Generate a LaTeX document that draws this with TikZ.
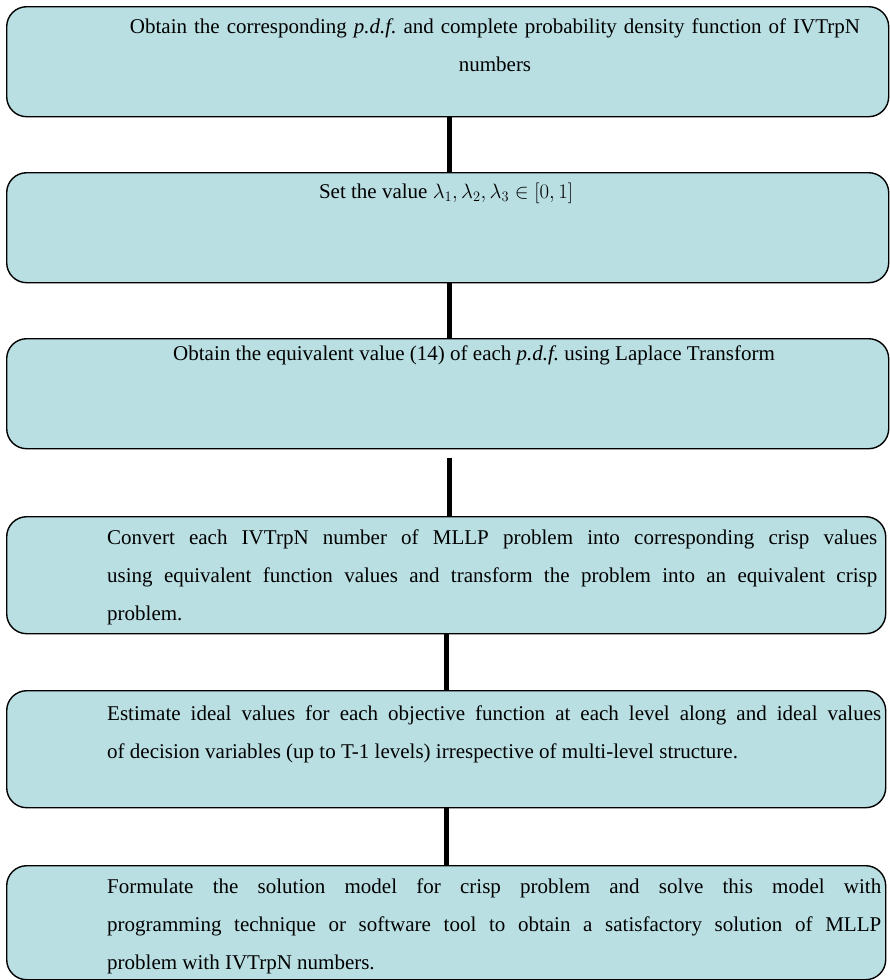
\documentclass[tikz,border=0pt]{standalone}
\usepackage{fontspec}
\setmainfont{Liberation Serif}
\definecolor{boxfill}{RGB}{185,223,227}
\hyphenpenalty=10000
\exhyphenpenalty=10000
\frenchspacing

\begin{document}
\begin{tikzpicture}[x=1pt,y=-1pt,line join=round,
  flowbox/.style={draw,line width=1.4pt,fill=boxfill,rounded corners=20pt,
    anchor=north west,inner sep=0pt},
  flowtext/.style={inner sep=0pt,font=\fontsize{21}{38}\selectfont},
  link/.style={line width=5pt}]
  \useasboundingbox (0,0) rectangle (889,980);
  % the six steps
  \node[flowbox,minimum width=882pt,minimum height=110pt] (obtainpdf) at (6,6) {};
  \node[flowbox,minimum width=882pt,minimum height=110pt] (setvalue) at (6,172) {};
  \node[flowbox,minimum width=882pt,minimum height=110pt] (equivalent) at (6,338) {};
  \node[flowbox,minimum width=879pt,minimum height=117pt] (convert) at (6,516) {};
  \node[flowbox,minimum width=879pt,minimum height=117pt] (estimate) at (6,690) {};
  \node[flowbox,minimum width=879pt,minimum height=114pt] (formulate) at (6,865) {};
  % texts
  \node[flowtext,anchor=base,text width=780pt,align=center] (obtaintext) at (495,33)
    {Obtain the corresponding \textit{p.d.f.} and complete probability density function of IVTrpN\\numbers};
  \node[flowtext,anchor=base] (settext) at (446,198)
    {Set the value $\lambda_1,\lambda_2,\lambda_3\in[0,1]$};
  \node[flowtext,anchor=base west] (equivtext) at (173,360)
    {Obtain the equivalent value (14) of each \textit{p.d.f.} using Laplace Transform};
  \node[flowtext,anchor=base west,text width=770pt,align=justify] (converttext) at (107,544)
    {Convert each IVTrpN number of MLLP problem into corresponding crisp values\linebreak
     using equivalent function values and transform the problem into an equivalent crisp\linebreak
     problem.};
  \node[flowtext,anchor=base west,text width=774pt,align=justify] (estimatetext) at (107,720)
    {Estimate ideal values for each objective function at each level along and ideal values\linebreak
     of decision variables (up to T-1 levels) irrespective of multi-level structure.};
  \node[flowtext,anchor=base west,text width=774pt,align=justify] (formulatetext) at (107,893)
    {Formulate the solution model for crisp problem and solve this model with\linebreak
     programming technique or software tool to obtain a satisfactory solution of MLLP\linebreak
     problem with IVTrpN numbers.};
  % links
  \draw[link] ([xshift=2pt]obtainpdf.south) -- ([xshift=2pt]setvalue.north);
  \draw[link] ([xshift=2pt]setvalue.south) -- ([xshift=2pt]equivalent.north);
  \draw[link] ([xshift=2pt,yshift=-9pt]equivalent.south) -- ([xshift=3.5pt]convert.north);
  \draw[link] (convert.south) -- (estimate.north);
  \draw[link] (estimate.south) -- (formulate.north);
\end{tikzpicture}
\end{document}
